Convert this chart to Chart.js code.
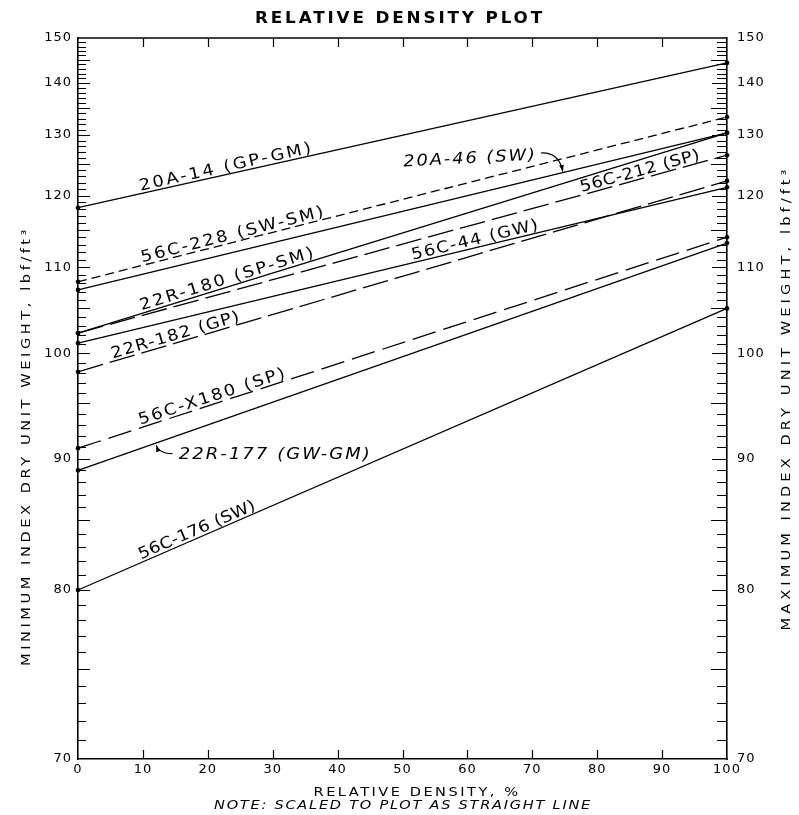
<!DOCTYPE html>
<html lang="en">
<head>
    <meta charset="UTF-8">
    <title>Relative Density Plot</title>
    <script src="https://cdn.jsdelivr.net/npm/chart.js"></script>
    <style>
        body { margin: 0; background: #fff; }
        #box { width: 799px; height: 815px; }
    </style>
</head>
<body>
<div id="box"><canvas id="grafico"></canvas></div>
<script>
    // samples, minimum (0 %) and maximum (100 %) index dry unit weight, lbf/ft3
    const samples = ['20A-14 (GP-GM)', '56C-228 (SW-SM)', '20A-46 (SW)', '22R-180 (SP-SM)', '56C-212 (SP)',
        '56C-44 (GW)', '22R-182 (GP)', '56C-X180 (SP)', '22R-177 (GW-GM)', '56C-176 (SW)'];
    const minWeight = [118.2, 108.2, 107.2, 102.2, 102.2, 101.1, 98.1, 90.9, 89.0, 80.0];
    const maxWeight = [144.3, 133.3, 130.4, 130.4, 126.5, 121.3, 122.3, 114.0, 113.2, 105.0];
    const relDensity = [0, 100];
    const xTicks = [0, 10, 20, 30, 40, 50, 60, 70, 80, 90, 100];
    const yTicks = [70, 80, 90, 100, 110, 120, 130, 140, 150];

    // line look and label placement (x in %, along the line)
    const dashes = [[], [9, 5], [], [], [26, 7], [], [26, 7], [24, 8], [], []];
    const labelAt = [23.1, 24.2, null, 23.4, 86.9, 61.5, 15.4, 21.1, null, 18.8];
    const labelWidth = [178, 190, 134, 183, 124, 131, 134, 155, 193, 126];
    // the two italic labels with an arrow: text centre (x %, y) and arrow tip (x % on the line)
    const callouts = {
        2: { x: 60.4, y: 126.2, angle: -3, tip: 74.7 },
        8: { x: 30.4, y: 90.5, angle: 0, tip: 11.9 }
    };

    // y axis is reciprocal so that relative density plots as a straight line
    class ReciprocalScale extends Chart.LinearScale {
        getPixelForValue(value) {
            const a = 1 / this.min, b = 1 / this.max;
            return this.getPixelForDecimal((a - 1 / value) / (a - b));
        }
        getValueForPixel(pixel) {
            const a = 1 / this.min, b = 1 / this.max;
            return 1 / (a - this.getDecimalForPixel(pixel) * (a - b));
        }
    }
    ReciprocalScale.id = 'reciprocal';
    ReciprocalScale.defaults = Chart.LinearScale.defaults;
    Chart.register(ReciprocalScale);

    const FONT = '"DejaVu Sans"';

    // lettering in the original is wide and spaced: a little stretch, the rest as spacing
    function fitted(ctx, text, x, y, width) {
        ctx.save();
        ctx.letterSpacing = '0px';
        const w = ctx.measureText(text).width;
        const k = Math.min(width / w, 1.12);
        ctx.letterSpacing = Math.max(0, (width / k - w) / text.length) + 'px';
        ctx.translate(x, y);
        ctx.scale(k, 1);
        ctx.fillText(text, 0, 0);
        ctx.restore();
    }

    function linePoint(chart, i, p) {
        const { x, y } = chart.scales;
        const y0 = y.getPixelForValue(minWeight[i]);
        const y1 = y.getPixelForValue(maxWeight[i]);
        const x0 = x.getPixelForValue(0), x1 = x.getPixelForValue(100);
        return {
            x: x.getPixelForValue(p),
            y: y0 + (y1 - y0) * p / 100,
            angle: Math.atan2(y1 - y0, x1 - x0)
        };
    }

    function arrow(ctx, sx, sy, cx, cy, ex, ey) {
        ctx.beginPath();
        ctx.moveTo(sx, sy);
        ctx.quadraticCurveTo(cx, cy, ex, ey);
        ctx.stroke();
        const a = Math.atan2(ey - cy, ex - cx);
        ctx.beginPath();
        ctx.moveTo(ex, ey);
        ctx.lineTo(ex - 7 * Math.cos(a - 0.35), ey - 7 * Math.sin(a - 0.35));
        ctx.lineTo(ex - 7 * Math.cos(a + 0.35), ey - 7 * Math.sin(a + 0.35));
        ctx.closePath();
        ctx.fill();
    }

    const extras = {
        id: 'extras',
        beforeDraw(chart) {
            chart.ctx.letterSpacing = '1px';
        },
        afterDraw(chart) {
            const { ctx, chartArea: a, scales: { x, y } } = chart;
            ctx.save();
            ctx.letterSpacing = '0px';
            ctx.strokeStyle = '#000';
            ctx.fillStyle = '#000';

            // frame top
            ctx.lineWidth = 1.5;
            ctx.beginPath();
            ctx.moveTo(a.left, a.top);
            ctx.lineTo(a.right, a.top);
            ctx.stroke();

            // tick marks
            ctx.lineWidth = 1.2;
            ctx.beginPath();
            for (let v = 71; v < 150; v++) {
                const py = Math.round(y.getPixelForValue(v)) + 0.5;
                const l = v % 10 == 0 ? 12 : (v % 5 == 0 ? 12 : 8);
                const r = v % 10 == 0 ? 15 : (v % 5 == 0 ? 16 : 10);
                ctx.moveTo(a.left, py); ctx.lineTo(a.left + l, py);
                ctx.moveTo(a.right, py); ctx.lineTo(a.right - r, py);
            }
            xTicks.slice(1, -1).forEach(v => {
                const px = Math.round(x.getPixelForValue(v)) + 0.5;
                ctx.moveTo(px, a.bottom); ctx.lineTo(px, a.bottom - 9);
                ctx.moveTo(px, a.top); ctx.lineTo(px, a.top + 9);
            });
            ctx.stroke();

            // titles
            ctx.textAlign = 'center';
            ctx.textBaseline = 'alphabetic';
            ctx.font = 'bold 15px ' + FONT;
            fitted(ctx, 'RELATIVE DENSITY PLOT', 400, 23, 290);

            ctx.font = '13px ' + FONT;
            fitted(ctx, 'RELATIVE DENSITY, %', 417, 796, 207);
            ctx.font = 'italic 13px ' + FONT;
            fitted(ctx, 'NOTE: SCALED TO PLOT AS STRAIGHT LINE', 403, 809, 378);

            ctx.font = '13px ' + FONT;
            ctx.textBaseline = 'middle';
            ctx.save();
            ctx.translate(27, 446);
            ctx.rotate(-Math.PI / 2);
            fitted(ctx, 'MINIMUM INDEX DRY UNIT WEIGHT, lbf/ft³', 0, 0, 440);
            ctx.restore();
            ctx.save();
            ctx.translate(787, 398);
            ctx.rotate(-Math.PI / 2);
            fitted(ctx, 'MAXIMUM INDEX DRY UNIT WEIGHT, lbf/ft³', 0, 0, 465);
            ctx.restore();

            // line labels
            ctx.textBaseline = 'alphabetic';
            samples.forEach((name, i) => {
                ctx.save();
                if (callouts[i]) {
                    const c = callouts[i];
                    const cx = x.getPixelForValue(c.x), cy = y.getPixelForValue(c.y);
                    ctx.font = 'italic 16px ' + FONT;
                    ctx.save();
                    ctx.translate(cx, cy);
                    ctx.rotate(c.angle * Math.PI / 180);
                    fitted(ctx, name, 0, 6, labelWidth[i]);
                    ctx.restore();
                    const t = linePoint(chart, i, c.tip);
                    ctx.lineWidth = 1.2;
                    if (t.x > cx) {
                        const sx = cx + labelWidth[i] / 2 + 4, sy = cy - 4;
                        arrow(ctx, sx, sy, t.x - 4, sy - 1, t.x, t.y - 1);
                    } else {
                        const sx = cx - labelWidth[i] / 2 - 6, sy = cy + 1;
                        arrow(ctx, sx, sy, t.x + 4, sy, t.x + 1, t.y + 2);
                    }
                } else {
                    const p = linePoint(chart, i, labelAt[i]);
                    ctx.translate(p.x, p.y);
                    ctx.rotate(p.angle);
                    ctx.font = '16px ' + FONT;
                    fitted(ctx, name, 0, -3, labelWidth[i]);
                }
                ctx.restore();
            });
            ctx.restore();
        }
    };

    const datasets = samples.map((name, i) => ({
        label: name,
        data: relDensity.map((d, k) => ({ x: d, y: k == 0 ? minWeight[i] : maxWeight[i] })),
        borderColor: '#000',
        borderWidth: 1.3,
        borderDash: dashes[i],
        pointRadius: 2.3,
        pointBackgroundColor: '#000',
        pointBorderWidth: 0,
        yAxisID: 'y',
        clip: false
    }));

    const yAxis = (pos, width, pad) => ({
        type: 'reciprocal',
        position: pos,
        min: 70,
        max: 150,
        grid: { display: false, drawTicks: false },
        border: { display: true, color: '#000', width: 1.6 },
        ticks: { padding: pad, color: '#000', font: { family: 'DejaVu Sans', size: 13 }, callback: v => v },
        afterBuildTicks: s => { s.ticks = yTicks.map(v => ({ value: v })); },
        afterFit: s => { s.width = width; }
    });

    new Chart(document.getElementById('grafico'), {
        type: 'line',
        data: { datasets: datasets },
        options: {
            responsive: true,
            maintainAspectRatio: false,
            animation: false,
            layout: { padding: { top: 38, left: 0, right: 0, bottom: 0 } },
            plugins: { legend: { display: false }, tooltip: { enabled: false } },
            scales: {
                x: {
                    type: 'linear',
                    min: 0,
                    max: 100,
                    grid: { display: false, drawTicks: false },
                    border: { display: true, color: '#000', width: 1.6 },
                    ticks: { padding: 3, color: '#000', font: { family: 'DejaVu Sans', size: 13 }, maxRotation: 0 },
                    afterBuildTicks: s => { s.ticks = xTicks.map(v => ({ value: v })); },
                    afterFit: s => { s.height = 56; }
                },
                y: yAxis('left', 78, 6),
                y2: yAxis('right', 72, 10)
            }
        },
        plugins: [extras]
    });
</script>
</body>
</html>
